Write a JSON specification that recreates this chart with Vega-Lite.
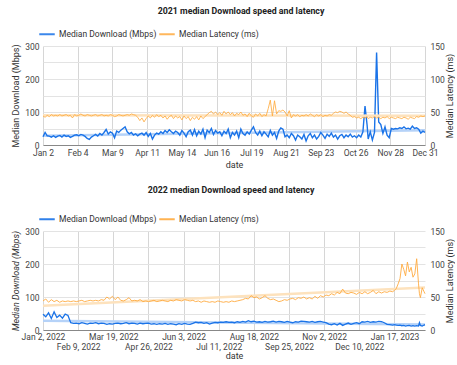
{
"$schema": "https://vega.github.io/schema/vega-lite/v6.json",
"padding": {"left": 11, "right": 0, "top": 7, "bottom": 0},
"spacing": 16,
"config": {
 "font": "Roboto",
 "view": {"stroke": null},
 "axis": {"labelFont": "Roboto", "labelFontSize": 8.5, "labelColor": "#444", "titleFont": "Roboto", "titleFontSize": 9, "titleFontWeight": "normal", "titleColor": "#333", "ticks": false, "domain": false, "gridColor": "#e3e3e3"},
 "legend": {"orient": "top", "direction": "horizontal", "title": null, "labelFont": "Roboto", "labelFontSize": 8.5, "labelColor": "#333", "labelOffset": 3, "symbolType": "stroke", "symbolSize": 240, "symbolStrokeWidth": 2, "symbolOffset": -5, "columnPadding": -2, "offset": 7, "padding": 0},
 "title": {"font": "Roboto", "fontSize": 8.8, "fontWeight": "bold", "color": "#222", "anchor": "middle"}
},
"resolve": {"scale": {"color": "independent"}, "legend": {"color": "independent"}},
"vconcat": [
{
 "title": {"text": "2021 median Download speed and latency", "offset": 9, "dx": 7},
 "width": 382, "height": 99,
 "data": {"format": {"parse": {"d": "date:'%Y-%m-%d'"}}, "values": [
{"d":"2021-01-02","dl":25,"lat":44},{"d":"2021-01-04","dl":38,"lat":42},{"d":"2021-01-06","dl":28,"lat":45},{"d":"2021-01-08","dl":27,"lat":43},{"d":"2021-01-10","dl":24,"lat":46},{"d":"2021-01-12","dl":28,"lat":44},{"d":"2021-01-14","dl":23,"lat":45},{"d":"2021-01-16","dl":27,"lat":44},{"d":"2021-01-18","dl":29,"lat":46},{"d":"2021-01-20","dl":24,"lat":44},{"d":"2021-01-22","dl":30,"lat":45},{"d":"2021-01-24","dl":26,"lat":46},{"d":"2021-01-26","dl":28,"lat":44},{"d":"2021-01-28","dl":23,"lat":45},{"d":"2021-01-30","dl":26,"lat":41},
{"d":"2021-02-01","dl":30,"lat":46},{"d":"2021-02-03","dl":31,"lat":44},{"d":"2021-02-05","dl":28,"lat":45},{"d":"2021-02-07","dl":32,"lat":47},{"d":"2021-02-09","dl":30,"lat":45},{"d":"2021-02-11","dl":26,"lat":44},{"d":"2021-02-13","dl":20,"lat":46},{"d":"2021-02-15","dl":17,"lat":45},{"d":"2021-02-17","dl":24,"lat":44},{"d":"2021-02-19","dl":28,"lat":45},{"d":"2021-02-21","dl":32,"lat":46},{"d":"2021-02-23","dl":27,"lat":44},{"d":"2021-02-25","dl":35,"lat":45},{"d":"2021-02-27","dl":30,"lat":46},
{"d":"2021-03-01","dl":38,"lat":44},{"d":"2021-03-03","dl":47,"lat":45},{"d":"2021-03-05","dl":33,"lat":44},{"d":"2021-03-07","dl":40,"lat":46},{"d":"2021-03-09","dl":36,"lat":45},{"d":"2021-03-11","dl":22,"lat":43},{"d":"2021-03-13","dl":42,"lat":44},{"d":"2021-03-15","dl":38,"lat":46},{"d":"2021-03-17","dl":45,"lat":45},{"d":"2021-03-19","dl":50,"lat":44},{"d":"2021-03-21","dl":55,"lat":45},{"d":"2021-03-23","dl":40,"lat":46},{"d":"2021-03-25","dl":34,"lat":45},{"d":"2021-03-27","dl":38,"lat":47},{"d":"2021-03-29","dl":30,"lat":46},{"d":"2021-03-31","dl":34,"lat":45},
{"d":"2021-04-02","dl":28,"lat":42},{"d":"2021-04-04","dl":33,"lat":37},{"d":"2021-04-06","dl":36,"lat":41},{"d":"2021-04-08","dl":30,"lat":35},{"d":"2021-04-10","dl":38,"lat":40},{"d":"2021-04-12","dl":26,"lat":44},{"d":"2021-04-14","dl":35,"lat":41},{"d":"2021-04-16","dl":18,"lat":45},{"d":"2021-04-18","dl":30,"lat":42},{"d":"2021-04-20","dl":36,"lat":46},{"d":"2021-04-22","dl":33,"lat":43},{"d":"2021-04-24","dl":40,"lat":45},{"d":"2021-04-26","dl":35,"lat":41},{"d":"2021-04-28","dl":44,"lat":44},{"d":"2021-04-30","dl":38,"lat":39},
{"d":"2021-05-02","dl":46,"lat":43},{"d":"2021-05-04","dl":40,"lat":45},{"d":"2021-05-06","dl":35,"lat":40},{"d":"2021-05-08","dl":42,"lat":44},{"d":"2021-05-10","dl":38,"lat":41},{"d":"2021-05-12","dl":30,"lat":43},{"d":"2021-05-14","dl":44,"lat":38},{"d":"2021-05-16","dl":36,"lat":44},{"d":"2021-05-18","dl":25,"lat":40},{"d":"2021-05-20","dl":40,"lat":43},{"d":"2021-05-22","dl":45,"lat":37},{"d":"2021-05-24","dl":30,"lat":42},{"d":"2021-05-26","dl":47,"lat":39},{"d":"2021-05-28","dl":28,"lat":43},{"d":"2021-05-30","dl":42,"lat":38},
{"d":"2021-06-01","dl":33,"lat":44},{"d":"2021-06-03","dl":48,"lat":40},{"d":"2021-06-05","dl":22,"lat":43},{"d":"2021-06-07","dl":45,"lat":46},{"d":"2021-06-09","dl":38,"lat":49},{"d":"2021-06-11","dl":50,"lat":51},{"d":"2021-06-13","dl":32,"lat":47},{"d":"2021-06-15","dl":44,"lat":50},{"d":"2021-06-17","dl":36,"lat":46},{"d":"2021-06-19","dl":40,"lat":49},{"d":"2021-06-21","dl":28,"lat":45},{"d":"2021-06-23","dl":42,"lat":51},{"d":"2021-06-25","dl":35,"lat":47},{"d":"2021-06-27","dl":48,"lat":50},{"d":"2021-06-29","dl":22,"lat":46},
{"d":"2021-07-01","dl":38,"lat":49},{"d":"2021-07-03","dl":30,"lat":44},{"d":"2021-07-05","dl":42,"lat":48},{"d":"2021-07-07","dl":22,"lat":46},{"d":"2021-07-09","dl":48,"lat":50},{"d":"2021-07-11","dl":35,"lat":45},{"d":"2021-07-13","dl":30,"lat":47},{"d":"2021-07-15","dl":40,"lat":43},{"d":"2021-07-17","dl":33,"lat":48},{"d":"2021-07-19","dl":45,"lat":44},{"d":"2021-07-21","dl":55,"lat":42},{"d":"2021-07-23","dl":38,"lat":47},{"d":"2021-07-25","dl":30,"lat":44},{"d":"2021-07-27","dl":42,"lat":48},{"d":"2021-07-29","dl":28,"lat":43},{"d":"2021-07-31","dl":40,"lat":46},
{"d":"2021-08-02","dl":33,"lat":44},{"d":"2021-08-04","dl":25,"lat":55},{"d":"2021-08-06","dl":44,"lat":68},{"d":"2021-08-08","dl":30,"lat":44},{"d":"2021-08-10","dl":38,"lat":67},{"d":"2021-08-12","dl":20,"lat":47},{"d":"2021-08-14","dl":42,"lat":52},{"d":"2021-08-16","dl":52,"lat":51},{"d":"2021-08-18","dl":48,"lat":53},{"d":"2021-08-20","dl":25,"lat":50},{"d":"2021-08-22","dl":30,"lat":44},{"d":"2021-08-24","dl":22,"lat":52},{"d":"2021-08-26","dl":35,"lat":41},{"d":"2021-08-28","dl":28,"lat":46},{"d":"2021-08-30","dl":15,"lat":44},
{"d":"2021-09-01","dl":30,"lat":46},{"d":"2021-09-03","dl":25,"lat":43},{"d":"2021-09-05","dl":18,"lat":45},{"d":"2021-09-07","dl":32,"lat":44},{"d":"2021-09-09","dl":12,"lat":46},{"d":"2021-09-11","dl":28,"lat":44},{"d":"2021-09-13","dl":35,"lat":47},{"d":"2021-09-15","dl":22,"lat":45},{"d":"2021-09-17","dl":30,"lat":43},{"d":"2021-09-19","dl":18,"lat":46},{"d":"2021-09-21","dl":26,"lat":44},{"d":"2021-09-23","dl":38,"lat":46},{"d":"2021-09-25","dl":30,"lat":43},{"d":"2021-09-27","dl":20,"lat":45},{"d":"2021-09-29","dl":33,"lat":44},
{"d":"2021-10-01","dl":26,"lat":46},{"d":"2021-10-03","dl":36,"lat":45},{"d":"2021-10-05","dl":24,"lat":48},{"d":"2021-10-07","dl":30,"lat":50},{"d":"2021-10-09","dl":18,"lat":49},{"d":"2021-10-11","dl":28,"lat":51},{"d":"2021-10-13","dl":32,"lat":50},{"d":"2021-10-15","dl":22,"lat":48},{"d":"2021-10-17","dl":30,"lat":50},{"d":"2021-10-19","dl":25,"lat":47},{"d":"2021-10-21","dl":33,"lat":45},{"d":"2021-10-23","dl":24,"lat":42},{"d":"2021-10-25","dl":28,"lat":43},{"d":"2021-10-27","dl":22,"lat":41},{"d":"2021-10-29","dl":30,"lat":42},{"d":"2021-10-31","dl":24,"lat":40},
{"d":"2021-11-02","dl":40,"lat":42},{"d":"2021-11-04","dl":118,"lat":41},{"d":"2021-11-06","dl":60,"lat":43},{"d":"2021-11-07","dl":18,"lat":40},{"d":"2021-11-09","dl":40,"lat":42},{"d":"2021-11-11","dl":15,"lat":41},{"d":"2021-11-13","dl":38,"lat":43},{"d":"2021-11-15","dl":280,"lat":41},{"d":"2021-11-17","dl":70,"lat":42},{"d":"2021-11-19","dl":62,"lat":40},{"d":"2021-11-21","dl":35,"lat":42},{"d":"2021-11-23","dl":55,"lat":41},{"d":"2021-11-25","dl":30,"lat":43},{"d":"2021-11-27","dl":22,"lat":40},{"d":"2021-11-29","dl":50,"lat":42},
{"d":"2021-12-01","dl":48,"lat":41},{"d":"2021-12-03","dl":50,"lat":40},{"d":"2021-12-05","dl":49,"lat":42},{"d":"2021-12-07","dl":52,"lat":41},{"d":"2021-12-09","dl":50,"lat":40},{"d":"2021-12-11","dl":55,"lat":42},{"d":"2021-12-13","dl":49,"lat":41},{"d":"2021-12-15","dl":51,"lat":39},{"d":"2021-12-17","dl":48,"lat":42},{"d":"2021-12-19","dl":57,"lat":41},{"d":"2021-12-21","dl":50,"lat":40},{"d":"2021-12-23","dl":52,"lat":43},{"d":"2021-12-25","dl":48,"lat":42},{"d":"2021-12-27","dl":36,"lat":44},{"d":"2021-12-29","dl":42,"lat":43},{"d":"2021-12-31","dl":38,"lat":44}
 ]},
 "encoding": {"x": {"field": "d", "type": "temporal",
   "scale": {"domain": [{"year": 2021, "month": 1, "date": 2}, {"year": 2021, "month": 12, "date": 31}], "nice": false},
   "axis": {"title": "date", "format": "%b %-d", "grid": true, "gridColor": "#d6d6d6", "domain": true, "domainColor": "#888", "labelPadding": 3, "titlePadding": 4, "labelFlush": false, "labelOverlap": false,
     "values": [{"year":2021,"month":1,"date":2},{"year":2021,"month":2,"date":4},{"year":2021,"month":3,"date":9},{"year":2021,"month":4,"date":11},{"year":2021,"month":5,"date":14},{"year":2021,"month":6,"date":16},{"year":2021,"month":7,"date":19},{"year":2021,"month":8,"date":21},{"year":2021,"month":9,"date":23},{"year":2021,"month":10,"date":26},{"year":2021,"month":11,"date":28},{"year":2021,"month":12,"date":31}]}}},
 "layer": [
  {"encoding": {"y": {"field": "dl", "type": "quantitative", "scale": {"domain": [0, 300], "nice": false},
     "axis": {"orient": "left", "title": "Median Download (Mbps)", "values": [0,50,100,150,200,250,300], "labelExpr": "datum.value % 100 == 0 ? datum.label : ''", "grid": true, "labelPadding": 4, "titlePadding": 4}}},
   "layer": [
    {"transform": [{"regression": "dl", "on": "d"}], "mark": {"type": "line", "color": "#b5d2f8", "strokeWidth": 2.5}},
    {"mark": {"type": "line", "strokeWidth": 1.4}, "encoding": {"color": {"datum": "Median Download (Mbps)", "type": "nominal", "scale": {"domain": ["Median Download (Mbps)", "Median Latency (ms)"], "range": ["#1a73e8", "#ffab40"]}}}}
   ]},
  {"encoding": {"y": {"field": "lat", "type": "quantitative", "scale": {"domain": [0, 150], "nice": false},
     "axis": {"orient": "right", "title": "Median Latency (ms)", "values": [0,50,100,150], "grid": false, "titleAngle": 270, "titleBaseline": "top", "labelPadding": 5, "titlePadding": 1}}},
   "layer": [
    {"transform": [{"regression": "lat", "on": "d"}], "mark": {"type": "line", "color": "#fde2bd", "strokeWidth": 2.5}},
    {"mark": {"type": "line", "strokeWidth": 1, "opacity": 0.85}, "encoding": {"color": {"datum": "Median Latency (ms)", "type": "nominal", "scale": {"domain": ["Median Download (Mbps)", "Median Latency (ms)"], "range": ["#1a73e8", "#ffab40"]}}}}
   ]}
 ],
 "resolve": {"scale": {"y": "independent"}}
},
{
 "title": {"text": "2022 median Download speed and latency", "offset": 15, "dx": -3},
 "width": 382, "height": 99,
 "data": {"format": {"parse": {"d": "date:'%Y-%m-%d'"}}, "values": [
{"d":"2022-01-02","dl":48,"lat":44},{"d":"2022-01-05","dl":40,"lat":47},{"d":"2022-01-08","dl":52,"lat":42},{"d":"2022-01-11","dl":35,"lat":46},{"d":"2022-01-14","dl":55,"lat":43},{"d":"2022-01-17","dl":38,"lat":45},{"d":"2022-01-20","dl":45,"lat":42},{"d":"2022-01-23","dl":36,"lat":44},{"d":"2022-01-26","dl":48,"lat":43},{"d":"2022-01-29","dl":44,"lat":44},
{"d":"2022-02-01","dl":22,"lat":43},{"d":"2022-02-04","dl":20,"lat":44},{"d":"2022-02-07","dl":21,"lat":43},{"d":"2022-02-10","dl":19,"lat":44},{"d":"2022-02-13","dl":22,"lat":45},{"d":"2022-02-16","dl":20,"lat":43},{"d":"2022-02-19","dl":18,"lat":44},{"d":"2022-02-22","dl":21,"lat":45},{"d":"2022-02-25","dl":20,"lat":44},{"d":"2022-02-28","dl":22,"lat":45},
{"d":"2022-03-03","dl":19,"lat":44},{"d":"2022-03-06","dl":21,"lat":46},{"d":"2022-03-09","dl":20,"lat":45},{"d":"2022-03-12","dl":17,"lat":50},{"d":"2022-03-15","dl":19,"lat":47},{"d":"2022-03-18","dl":18,"lat":51},{"d":"2022-03-21","dl":20,"lat":46},{"d":"2022-03-24","dl":21,"lat":50},{"d":"2022-03-27","dl":19,"lat":45},{"d":"2022-03-30","dl":20,"lat":44},
{"d":"2022-04-02","dl":22,"lat":46},{"d":"2022-04-05","dl":19,"lat":49},{"d":"2022-04-08","dl":21,"lat":44},{"d":"2022-04-11","dl":20,"lat":45},{"d":"2022-04-14","dl":18,"lat":44},{"d":"2022-04-17","dl":21,"lat":46},{"d":"2022-04-20","dl":19,"lat":43},{"d":"2022-04-23","dl":20,"lat":44},{"d":"2022-04-26","dl":21,"lat":43},{"d":"2022-04-29","dl":18,"lat":44},
{"d":"2022-05-02","dl":19,"lat":45},{"d":"2022-05-05","dl":17,"lat":43},{"d":"2022-05-08","dl":19,"lat":44},{"d":"2022-05-11","dl":18,"lat":45},{"d":"2022-05-14","dl":20,"lat":44},{"d":"2022-05-17","dl":17,"lat":43},{"d":"2022-05-20","dl":19,"lat":45},{"d":"2022-05-23","dl":18,"lat":44},{"d":"2022-05-26","dl":16,"lat":46},{"d":"2022-05-29","dl":19,"lat":45},
{"d":"2022-06-01","dl":17,"lat":44},{"d":"2022-06-04","dl":20,"lat":46},{"d":"2022-06-07","dl":18,"lat":45},{"d":"2022-06-10","dl":17,"lat":44},{"d":"2022-06-13","dl":20,"lat":45},{"d":"2022-06-16","dl":24,"lat":43},{"d":"2022-06-19","dl":22,"lat":44},{"d":"2022-06-22","dl":23,"lat":42},{"d":"2022-06-25","dl":20,"lat":44},{"d":"2022-06-28","dl":22,"lat":43},
{"d":"2022-07-01","dl":18,"lat":42},{"d":"2022-07-04","dl":21,"lat":43},{"d":"2022-07-07","dl":23,"lat":42},{"d":"2022-07-10","dl":22,"lat":44},{"d":"2022-07-13","dl":24,"lat":43},{"d":"2022-07-16","dl":23,"lat":42},{"d":"2022-07-19","dl":25,"lat":43},{"d":"2022-07-22","dl":23,"lat":42},{"d":"2022-07-25","dl":24,"lat":44},{"d":"2022-07-28","dl":22,"lat":43},{"d":"2022-07-31","dl":25,"lat":44},
{"d":"2022-08-03","dl":23,"lat":45},{"d":"2022-08-06","dl":26,"lat":46},{"d":"2022-08-09","dl":24,"lat":48},{"d":"2022-08-12","dl":28,"lat":47},{"d":"2022-08-15","dl":25,"lat":52},{"d":"2022-08-18","dl":27,"lat":49},{"d":"2022-08-21","dl":24,"lat":50},{"d":"2022-08-24","dl":25,"lat":47},{"d":"2022-08-27","dl":23,"lat":49},{"d":"2022-08-30","dl":26,"lat":52},
{"d":"2022-09-02","dl":24,"lat":48},{"d":"2022-09-05","dl":25,"lat":46},{"d":"2022-09-08","dl":27,"lat":47},{"d":"2022-09-11","dl":24,"lat":45},{"d":"2022-09-14","dl":26,"lat":43},{"d":"2022-09-17","dl":25,"lat":44},{"d":"2022-09-20","dl":23,"lat":46},{"d":"2022-09-23","dl":26,"lat":45},{"d":"2022-09-26","dl":24,"lat":47},{"d":"2022-09-29","dl":22,"lat":48},
{"d":"2022-10-02","dl":25,"lat":46},{"d":"2022-10-05","dl":24,"lat":49},{"d":"2022-10-08","dl":27,"lat":48},{"d":"2022-10-11","dl":26,"lat":50},{"d":"2022-10-14","dl":25,"lat":47},{"d":"2022-10-17","dl":24,"lat":49},{"d":"2022-10-20","dl":26,"lat":47},{"d":"2022-10-23","dl":23,"lat":51},{"d":"2022-10-26","dl":25,"lat":48},{"d":"2022-10-29","dl":26,"lat":52},
{"d":"2022-11-01","dl":24,"lat":50},{"d":"2022-11-04","dl":22,"lat":53},{"d":"2022-11-07","dl":18,"lat":52},{"d":"2022-11-10","dl":16,"lat":55},{"d":"2022-11-13","dl":19,"lat":53},{"d":"2022-11-16","dl":15,"lat":57},{"d":"2022-11-19","dl":20,"lat":55},{"d":"2022-11-22","dl":14,"lat":62},{"d":"2022-11-25","dl":18,"lat":56},{"d":"2022-11-28","dl":21,"lat":55},
{"d":"2022-12-01","dl":17,"lat":57},{"d":"2022-12-04","dl":20,"lat":56},{"d":"2022-12-07","dl":22,"lat":54},{"d":"2022-12-10","dl":19,"lat":57},{"d":"2022-12-13","dl":25,"lat":55},{"d":"2022-12-16","dl":24,"lat":58},{"d":"2022-12-19","dl":26,"lat":55},{"d":"2022-12-22","dl":23,"lat":57},{"d":"2022-12-25","dl":25,"lat":60},{"d":"2022-12-28","dl":24,"lat":55},{"d":"2022-12-31","dl":26,"lat":58},
{"d":"2023-01-03","dl":25,"lat":56},{"d":"2023-01-06","dl":22,"lat":58},{"d":"2023-01-09","dl":17,"lat":57},{"d":"2023-01-12","dl":16,"lat":59},{"d":"2023-01-15","dl":15,"lat":58},{"d":"2023-01-17","dl":16,"lat":60},{"d":"2023-01-19","dl":15,"lat":63},{"d":"2023-01-21","dl":14,"lat":70},{"d":"2023-01-23","dl":15,"lat":78},{"d":"2023-01-25","dl":13,"lat":100},{"d":"2023-01-27","dl":14,"lat":92},{"d":"2023-01-29","dl":12,"lat":82},{"d":"2023-01-31","dl":13,"lat":103},
{"d":"2023-02-02","dl":14,"lat":88},{"d":"2023-02-04","dl":12,"lat":95},{"d":"2023-02-06","dl":13,"lat":80},{"d":"2023-02-08","dl":12,"lat":85},{"d":"2023-02-10","dl":13,"lat":108},{"d":"2023-02-12","dl":12,"lat":70},{"d":"2023-02-13","dl":22,"lat":55},{"d":"2023-02-14","dl":14,"lat":49},{"d":"2023-02-16","dl":12,"lat":64},{"d":"2023-02-18","dl":15,"lat":58},{"d":"2023-02-19","dl":16,"lat":55}
 ]},
 "encoding": {"x": {"field": "d", "type": "temporal",
   "scale": {"domain": [{"year": 2022, "month": 1, "date": 2}, {"year": 2023, "month": 2, "date": 19}], "nice": false},
   "axis": {"title": "date", "format": "%b %-d, %Y", "grid": true, "gridColor": "#d6d6d6", "domain": true, "domainColor": "#888", "labelPadding": 2, "titlePadding": 1, "labelFlush": false, "labelOverlap": false, "labelLineHeight": 10,
     "labelExpr": "indexof(['Feb 9, 2022','Apr 26, 2022','Jul 11, 2022','Sep 25, 2022','Dec 10, 2022'], datum.label) >= 0 ? ['', datum.label] : datum.label",
     "values": [{"year":2022,"month":1,"date":2},{"year":2022,"month":2,"date":9},{"year":2022,"month":3,"date":19},{"year":2022,"month":4,"date":26},{"year":2022,"month":6,"date":3},{"year":2022,"month":7,"date":11},{"year":2022,"month":8,"date":18},{"year":2022,"month":9,"date":25},{"year":2022,"month":11,"date":2},{"year":2022,"month":12,"date":10},{"year":2023,"month":1,"date":17}]}}},
 "layer": [
  {"encoding": {"y": {"field": "dl", "type": "quantitative", "scale": {"domain": [0, 300], "nice": false},
     "axis": {"orient": "left", "title": "Median Download (Mbps)", "titleFontStyle": "italic", "values": [0,50,100,150,200,250,300], "labelExpr": "datum.value % 100 == 0 ? datum.label : ''", "grid": true, "labelPadding": 4, "titlePadding": 4}}},
   "layer": [
    {"transform": [{"regression": "dl", "on": "d"}], "mark": {"type": "line", "color": "#b5d2f8", "strokeWidth": 2.5}},
    {"mark": {"type": "line", "strokeWidth": 1.3}, "encoding": {"color": {"datum": "Median Download (Mbps)", "type": "nominal", "scale": {"domain": ["Median Download (Mbps)", "Median Latency (ms)"], "range": ["#1a73e8", "#ffab40"]}}}}
   ]},
  {"encoding": {"y": {"field": "lat", "type": "quantitative", "scale": {"domain": [0, 150], "nice": false},
     "axis": {"orient": "right", "title": "Median Latency (ms)", "values": [0,50,100,150], "grid": false, "titleAngle": 270, "titleBaseline": "top", "labelPadding": 5, "titlePadding": 1}}},
   "layer": [
    {"transform": [{"regression": "lat", "on": "d"}], "mark": {"type": "line", "color": "#fde2bd", "strokeWidth": 2.5}},
    {"mark": {"type": "line", "strokeWidth": 1, "opacity": 0.9}, "encoding": {"color": {"datum": "Median Latency (ms)", "type": "nominal", "scale": {"domain": ["Median Download (Mbps)", "Median Latency (ms)"], "range": ["#1a73e8", "#ffab40"]}}}}
   ]}
 ],
 "resolve": {"scale": {"y": "independent"}}
}
]
}
